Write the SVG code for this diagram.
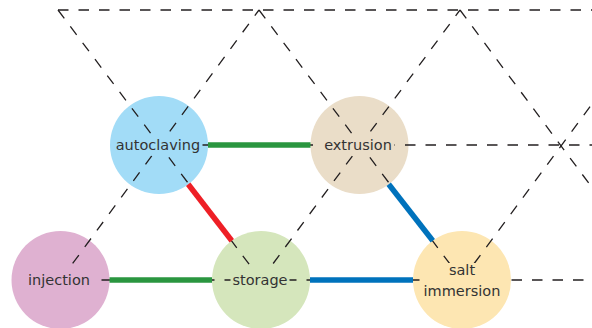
<svg xmlns="http://www.w3.org/2000/svg" width="592" height="328" viewBox="0 0 592 328">
<style>
.grid{fill:none;stroke:#231f20;stroke-width:1.3;stroke-dasharray:10.5 10}
.link{fill:none;stroke-width:5.5}
.lbl{font-family:"DejaVu Sans",sans-serif;font-size:14.5px;fill:#333;text-anchor:middle}
</style>
<rect width="592" height="328" fill="#fff"/>
<g id="node-autoclaving-shape"><circle cx="159" cy="145" r="49" fill="#a2dcf7"/></g>
<g id="node-extrusion-shape"><circle cx="359.5" cy="145" r="49" fill="#eaddc8"/></g>
<g id="node-injection-shape"><circle cx="60.5" cy="280" r="49" fill="#dfb1d1"/></g>
<g id="node-storage-shape"><circle cx="261" cy="280" r="49" fill="#d5e6bc"/></g>
<g id="node-salt-shape"><circle cx="462" cy="280" r="49" fill="#fde6b2"/></g>
<g id="grid">
<line class="grid" x1="58" y1="10" x2="592" y2="10"/>
<line class="grid" x1="159" y1="145" x2="592" y2="145"/>
<line class="grid" x1="60.5" y1="280" x2="592" y2="280"/>
<line class="grid" x1="58" y1="10" x2="261" y2="280"/>
<line class="grid" x1="259" y1="10" x2="462" y2="280"/>
<line class="grid" x1="460" y1="10" x2="592" y2="187.5"/>
<line class="grid" x1="60.5" y1="280" x2="259" y2="10"/>
<line class="grid" x1="261" y1="280" x2="460" y2="10"/>
<line class="grid" x1="462" y1="280" x2="592" y2="104"/>
</g>
<g id="connectors">
<line class="link" stroke="#2a963f" x1="208" y1="145" x2="310.5" y2="145"/>
<line class="link" stroke="#ee1f26" x1="188.2" y1="184.3" x2="231.8" y2="240.7"/>
<line class="link" stroke="#2a963f" x1="109.5" y1="280" x2="212" y2="280"/>
<line class="link" stroke="#0072bc" x1="388.7" y1="184.3" x2="432.8" y2="240.7"/>
<line class="link" stroke="#0072bc" x1="310" y1="280" x2="413" y2="280"/>
</g>
<g id="node-autoclaving"><rect x="113.5" y="135.5" width="89" height="20" fill="#a2dcf7"/><text class="lbl" x="158" y="150">autoclaving</text></g>
<g id="node-extrusion"><rect x="321.5" y="135.5" width="73" height="20" fill="#eaddc8"/><text class="lbl" x="358" y="150">extrusion</text></g>
<g id="node-injection"><rect x="26" y="270.5" width="66" height="20" fill="#dfb1d1"/><text class="lbl" x="59" y="285">injection</text></g>
<g id="node-storage"><rect x="230.5" y="270.5" width="59" height="20" fill="#d5e6bc"/><text class="lbl" x="260" y="285">storage</text></g>
<g id="node-salt"><rect x="446.5" y="263" width="31" height="18" fill="#fde6b2"/><rect x="424.5" y="278" width="78.5" height="23" fill="#fde6b2"/><text class="lbl" x="462" y="275">salt</text><text class="lbl" x="462" y="296">immersion</text></g>
</svg>
